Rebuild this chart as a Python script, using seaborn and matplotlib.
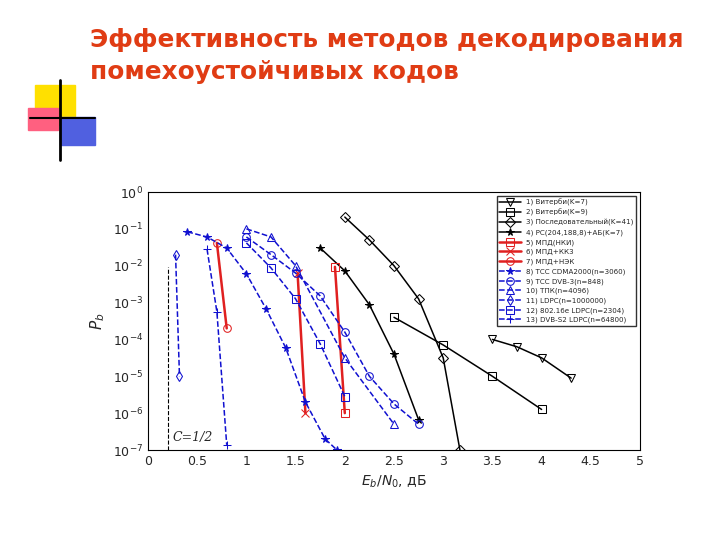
import numpy as np
import matplotlib
matplotlib.use('Agg')
import matplotlib.pyplot as plt
import seaborn as sns
from matplotlib.patches import Rectangle

sns.set_style('white')
plt.rcParams['font.family'] = ['DejaVu Sans']

# x values (Eb/N0, dB) and log10 Pb for each curve
s1_x = [3.5, 3.75, 4.0, 4.3]; s1_y = [-4.0, -4.2, -4.5, -5.05]
s2_x = [2.5, 3.0, 3.5, 4.0]; s2_y = [-3.4, -4.15, -5.0, -5.9]
s3_x = [2.0, 2.25, 2.5, 2.75, 3.0, 3.17]; s3_y = [-0.68, -1.3, -2.0, -2.9, -4.5, -7.0]
s4_x = [1.75, 2.0, 2.25, 2.5, 2.75]; s4_y = [-1.52, -2.14, -3.06, -4.4, -6.18]
s5_x = [1.9, 2.0]; s5_y = [-2.03, -6.0]
s6_x = [1.52, 1.6]; s6_y = [-2.2, -6.0]
s7_x = [0.7, 0.8]; s7_y = [-1.38, -3.7]
s8_x = [0.4, 0.6, 0.8, 1.0, 1.2, 1.4, 1.6, 1.8, 1.92]; s8_y = [-1.08, -1.22, -1.52, -2.22, -3.17, -4.23, -5.7, -6.7, -7.0]
s9_x = [1.0, 1.25, 1.5, 1.75, 2.0, 2.25, 2.5, 2.75]; s9_y = [-1.22, -1.7, -2.2, -2.82, -3.8, -5.0, -5.75, -6.3]
s10_x = [1.0, 1.25, 1.5, 2.0, 2.5]; s10_y = [-1.0, -1.22, -2.0, -4.5, -6.3]
s11_x = [0.28, 0.32]; s11_y = [-1.7, -5.0]
s12_x = [1.0, 1.25, 1.5, 1.75, 2.0]; s12_y = [-1.38, -2.06, -2.9, -4.12, -5.55]
s13_x = [0.6, 0.7, 0.8]; s13_y = [-1.55, -3.25, -6.86]

series = [
    ('1) Витерби(K=7)', s1_x, s1_y, 'black', '-', 'v'),
    ('2) Витерби(K=9)', s2_x, s2_y, 'black', '-', 's'),
    ('3) Последовательный(K=41)', s3_x, s3_y, 'black', '-', 'D'),
    ('4) РС(204,188,8)+АБ(K=7)', s4_x, s4_y, 'black', '-', '*'),
    ('5) МПД(НКИ)', s5_x, s5_y, '#e02020', '-', 's'),
    ('6) МПД+КК3', s6_x, s6_y, '#e02020', '-', 'x'),
    ('7) МПД+НЭК', s7_x, s7_y, '#e02020', '-', 'o'),
    ('8) ТСС CDMA2000(n=3060)', s8_x, s8_y, '#1010d0', '--', '*'),
    ('9) ТСС DVB-3(n=848)', s9_x, s9_y, '#1010d0', '--', 'o'),
    ('10) ТПК(n=4096)', s10_x, s10_y, '#1010d0', '--', '^'),
    ('11) LDPC(n=1000000)', s11_x, s11_y, '#1010d0', '--', 'd'),
    ('12) 802.16e LDPC(n=2304)', s12_x, s12_y, '#1010d0', '--', 's'),
    ('13) DVB-S2 LDPC(n=64800)', s13_x, s13_y, '#1010d0', '--', '+'),
]

fig = plt.figure(figsize=(7.2, 5.4), dpi=100)

# decorative slide elements
fig.patches.append(Rectangle((35/720, 1-125/540), 40/720, 40/540, transform=fig.transFigure, color='#ffe000', zorder=0))
fig.patches.append(Rectangle((28/720, 1-130/540), 30/720, 22/540, transform=fig.transFigure, color='#ff6080', zorder=1))
fig.patches.append(Rectangle((60/720, 1-145/540), 35/720, 28/540, transform=fig.transFigure, color='#5060e0', zorder=1))
fig.lines.append(plt.Line2D([60/720, 60/720], [1-160/540, 1-80/540], transform=fig.transFigure, color='black', lw=2))
fig.lines.append(plt.Line2D([30/720, 95/720], [1-118/540, 1-118/540], transform=fig.transFigure, color='black', lw=1.5))

fig.text(90/720, 1-40/540, 'Эффективность методов декодирования', color='#e03c14',
         fontsize=17.8, fontweight='bold', va='center')
fig.text(90/720, 1-72/540, 'помехоустойчивых кодов', color='#e03c14',
         fontsize=17.8, fontweight='bold', va='center')

ax = fig.add_axes([148/720, 1-450/540, 492/720, 258/540])
for lab, xs, ys, c, ls, m in series:
    sns.lineplot(x=xs, y=10.0 ** np.array(ys), ax=ax, color=c, linestyle=ls, marker=m,
                 markersize=5.5, markerfacecolor='none' if m not in ('*', 'x', '+') else c,
                 markeredgecolor=c, lw=1.8 if c == '#e02020' else 1.1, label=lab,
                 sort=False, estimator=None)
ax.set_yscale('log')
ax.set_xlim(0, 5)
ax.set_ylim(1e-7, 1)
ax.set_xticks(np.arange(0, 5.01, 0.5))
ax.set_xticklabels(['0', '0.5', '1', '1.5', '2', '2.5', '3', '3.5', '4', '4.5', '5'])
ax.set_yticks([10.0 ** k for k in range(-7, 1)])
ax.tick_params(labelsize=9, direction='in', length=3)
ax.minorticks_off()
ax.axvline(0.2, ymin=0, ymax=(7 - 2.03) / 7, color='black', ls='--', lw=0.8)
ax.text(0.25, 10 ** -6.75, 'C=1/2', fontsize=9, family='serif', style='italic')
ax.set_xlabel('$E_b/N_0$, дБ', fontsize=10)
ax.set_ylabel('$P_b$', fontsize=11)
for sp in ax.spines.values():
    sp.set_color('black')
ax.legend(loc='upper right', fontsize=5.1, frameon=True, fancybox=False,
          edgecolor='black', handlelength=3, labelspacing=0.45, borderpad=0.4)

fig.savefig('out.png', dpi=100)
